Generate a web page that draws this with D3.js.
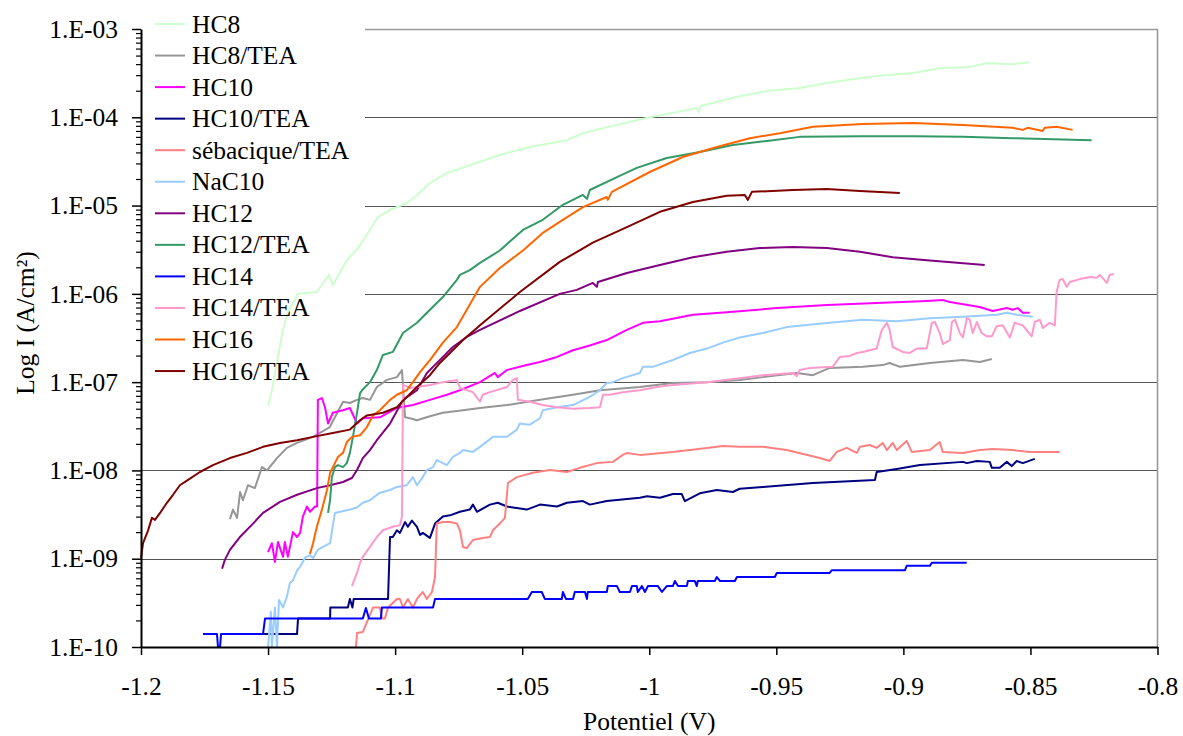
<!DOCTYPE html>
<html><head><meta charset="utf-8">
<script src="https://cdn.jsdelivr.net/npm/d3@7"></script>
<style>body{margin:0;background:#fff;} svg{display:block;} svg text{font-family:"Liberation Serif","Tinos","Times New Roman",Times,"DejaVu Serif","Noto Serif",serif !important;fill:#000;}</style>
</head><body><svg id="chart" width="1183" height="736"></svg>
<script>
const seriesNames = ["HC8","HC8/TEA","HC10","HC10/TEA","sébacique/TEA","NaC10","HC12","HC12/TEA","HC14","HC14/TEA","HC16","HC16/TEA"];
const seriesColors = ["#ccffcc","#969696","#ff00ff","#000080","#ff8080","#99ccff","#800080","#339966","#0000ff","#ff99cc","#ff6600","#800000"];
const xTickValues = [-1.2,-1.15,-1.1,-1.05,-1,-0.95,-0.9,-0.85,-0.8];
const xTickLabels = ["-1.2","-1.15","-1.1","-1.05","-1","-0.95","-0.9","-0.85","-0.8"];
const yTickValues = [1e-10,1e-9,1e-8,1e-7,1e-6,1e-5,1e-4,1e-3];
const yTickLabels = ["1.E-10","1.E-09","1.E-08","1.E-07","1.E-06","1.E-05","1.E-04","1.E-03"];
const xTitle = "Potentiel (V)";
const yTitle = "Log I (A/cm²)";

// [potential V, current A/cm²]
const hc8 = [[-1.15,5.4e-8],[-1.1485,8.1e-8],[-1.1441,4.0e-7],[-1.1422,6.2e-7],[-1.1382,1.0e-6],[-1.1308,1.05e-6],[-1.126,1.64e-6],[-1.1245,1.26e-6],[-1.119,2.4e-6],[-1.1146,3.3e-6],[-1.1099,5.3e-6],[-1.1068,7.4e-6],[-1.102,8.9e-6],[-1.0954,1.07e-5],[-1.0922,1.25e-5],[-1.0863,1.8e-5],[-1.0796,2.34e-5],[-1.0725,2.74e-5],[-1.0588,3.74e-5],[-1.047,4.6e-5],[-1.0324,5.5e-5],[-1.0261,6.6e-5],[-1.0127,8.2e-5],[-0.9998,1.0e-4],[-0.9813,1.27e-4],[-0.9805,1.15e-4],[-0.9797,1.34e-4],[-0.9671,1.66e-4],[-0.9537,1.99e-4],[-0.9408,2.15e-4],[-0.9278,2.51e-4],[-0.9105,2.94e-4],[-0.8963,3.18e-4],[-0.8857,3.6e-4],[-0.8739,3.7e-4],[-0.8672,4.1e-4],[-0.857,4.0e-4],[-0.8503,4.2e-4]];
const hc8tea = [[-1.165,2.8e-9],[-1.1638,3.6e-9],[-1.1622,2.9e-9],[-1.161,5.7e-9],[-1.1599,4.6e-9],[-1.1579,6.8e-9],[-1.1552,6.3e-9],[-1.1524,1.09e-8],[-1.1504,1.0e-8],[-1.1465,1.38e-8],[-1.1426,1.8e-8],[-1.1386,2.05e-8],[-1.1323,2.4e-8],[-1.1257,3.1e-8],[-1.1205,6.0e-8],[-1.1178,5.8e-8],[-1.115,6.3e-8],[-1.1127,6.6e-8],[-1.1099,6.3e-8],[-1.1072,8.8e-8],[-1.1032,1.06e-7],[-1.0993,1.14e-7],[-1.0973,1.37e-7],[-1.0961,4.0e-8],[-1.0942,3.9e-8],[-1.0914,3.7e-8],[-1.0863,4.1e-8],[-1.0812,4.5e-8],[-1.0733,4.8e-8],[-1.0666,5.1e-8],[-1.056,5.5e-8],[-1.043,6.3e-8],[-1.03,7.2e-8],[-1.0194,8.1e-8],[-1.0037,8.8e-8],[-0.9907,9.8e-8],[-0.9773,1.0e-7],[-0.9644,1.06e-7],[-0.9553,1.14e-7],[-0.9419,1.27e-7],[-0.9356,1.2e-7],[-0.929,1.45e-7],[-0.916,1.49e-7],[-0.9081,1.56e-7],[-0.9054,1.65e-7],[-0.9014,1.49e-7],[-0.8896,1.65e-7],[-0.8766,1.78e-7],[-0.8699,1.69e-7],[-0.8652,1.83e-7]];
const hc10 = [[-1.15,1.19e-9],[-1.1485,1.5e-9],[-1.1473,9.2e-10],[-1.1461,1.55e-9],[-1.1441,1.05e-9],[-1.1434,1.55e-9],[-1.1422,1.05e-9],[-1.1402,2.0e-9],[-1.1386,1.76e-9],[-1.1374,1.96e-9],[-1.1363,3.0e-9],[-1.1347,3.9e-9],[-1.1335,3.4e-9],[-1.1315,3.9e-9],[-1.1307,3.9e-9],[-1.1304,6.3e-8],[-1.1288,6.6e-8],[-1.1276,5.2e-8],[-1.1264,3.4e-8],[-1.1245,4.5e-8],[-1.1205,4.8e-8],[-1.1178,5.1e-8],[-1.115,3.4e-8],[-1.1127,3.9e-8],[-1.106,4.0e-8],[-1.0993,5.1e-8],[-1.093,5.5e-8],[-1.0863,6.3e-8],[-1.0796,7.2e-8],[-1.0745,8.1e-8],[-1.0666,1.0e-7],[-1.0607,1.27e-7],[-1.0596,1.14e-7],[-1.056,1.37e-7],[-1.0482,1.56e-7],[-1.043,1.69e-7],[-1.0363,1.93e-7],[-1.03,2.3e-7],[-1.0234,2.6e-7],[-1.0167,3.0e-7],[-1.0088,3.9e-7],[-1.0025,4.7e-7],[-0.9958,4.9e-7],[-0.9828,5.8e-7],[-0.9695,6.2e-7],[-0.9498,6.9e-7],[-0.9301,7.5e-7],[-0.9105,7.9e-7],[-0.8908,8.3e-7],[-0.8845,8.5e-7],[-0.8817,8.1e-7],[-0.87,7.1e-7],[-0.8648,6.4e-7],[-0.8593,6.9e-7],[-0.857,6.6e-7],[-0.855,6.9e-7],[-0.853,6.1e-7],[-0.8503,6.1e-7]];
const hc10tea = [[-1.152,1.4e-10],[-1.1386,1.4e-10],[-1.1382,2.1e-10],[-1.1256,2.1e-10],[-1.1255,2.8e-10],[-1.1186,2.8e-10],[-1.1178,3.5e-10],[-1.1168,2.8e-10],[-1.1163,3.5e-10],[-1.1028,3.5e-10],[-1.102,1.76e-9],[-1.1009,1.76e-9],[-1.0993,2.1e-9],[-1.0981,1.96e-9],[-1.0961,2.6e-9],[-1.095,2.3e-9],[-1.0934,2.7e-9],[-1.0914,2.3e-9],[-1.0902,1.86e-9],[-1.0891,1.96e-9],[-1.0863,1.72e-9],[-1.0843,2.5e-9],[-1.0812,3.0e-9],[-1.0784,3.1e-9],[-1.0745,3.4e-9],[-1.0706,3.6e-9],[-1.0694,4.1e-9],[-1.0678,3.4e-9],[-1.0627,4.1e-9],[-1.0596,4.3e-9],[-1.056,3.9e-9],[-1.0482,3.6e-9],[-1.043,4.1e-9],[-1.0363,3.9e-9],[-1.0324,4.3e-9],[-1.0261,4.5e-9],[-1.0234,4.1e-9],[-1.0167,4.5e-9],[-1.0037,4.9e-9],[-1.0009,5.1e-9],[-0.9958,4.9e-9],[-0.9907,5.4e-9],[-0.9872,5.4e-9],[-0.986,4.5e-9],[-0.9801,5.5e-9],[-0.9734,6.0e-9],[-0.9671,5.7e-9],[-0.9644,6.2e-9],[-0.9553,6.5e-9],[-0.9356,7.2e-9],[-0.9112,7.8e-9],[-0.9105,9.6e-9],[-0.9026,1.04e-8],[-0.8935,1.15e-8],[-0.8766,1.25e-8],[-0.875,1.21e-8],[-0.8711,1.28e-8],[-0.866,1.25e-8],[-0.8652,1.07e-8],[-0.8621,1.07e-8],[-0.8593,1.25e-8],[-0.8574,1.12e-8],[-0.8554,1.28e-8],[-0.853,1.21e-8],[-0.8483,1.35e-8]];
const sebaciqueTea = [[-1.1154,1.0e-10],[-1.115,1.44e-10],[-1.1127,1.48e-10],[-1.1087,2.8e-10],[-1.1072,2.8e-10],[-1.106,2.8e-10],[-1.1052,2.1e-10],[-1.104,2.1e-10],[-1.1028,2.8e-10],[-1.0993,3.5e-10],[-1.0981,3.5e-10],[-1.0969,2.8e-10],[-1.095,3.5e-10],[-1.093,2.8e-10],[-1.0914,3.5e-10],[-1.0891,4.2e-10],[-1.0875,3.5e-10],[-1.0855,4.2e-10],[-1.0843,6.2e-10],[-1.0836,2.5e-9],[-1.0812,2.6e-9],[-1.0784,2.6e-9],[-1.0757,2.5e-9],[-1.0745,2.1e-9],[-1.0733,1.36e-9],[-1.0718,1.32e-9],[-1.0694,1.63e-9],[-1.0655,1.72e-9],[-1.0627,1.76e-9],[-1.0615,2.1e-9],[-1.0588,2.5e-9],[-1.0568,2.9e-9],[-1.0556,7.2e-9],[-1.0521,8.4e-9],[-1.0458,9.4e-9],[-1.0391,1.01e-8],[-1.0324,9.6e-9],[-1.0273,1.07e-8],[-1.0206,1.21e-8],[-1.0143,1.25e-8],[-1.0104,1.5e-8],[-1.0088,1.58e-8],[-1.0037,1.5e-8],[-0.9907,1.62e-8],[-0.9773,1.8e-8],[-0.971,1.89e-8],[-0.9644,1.85e-8],[-0.9553,1.85e-8],[-0.9459,1.7e-8],[-0.9329,1.38e-8],[-0.929,1.28e-8],[-0.9262,1.62e-8],[-0.9223,1.8e-8],[-0.9183,1.58e-8],[-0.9171,1.85e-8],[-0.9132,1.94e-8],[-0.9105,1.8e-8],[-0.9081,2.05e-8],[-0.9065,1.7e-8],[-0.9042,2.05e-8],[-0.9026,1.7e-8],[-0.8987,2.16e-8],[-0.8967,1.62e-8],[-0.8896,1.7e-8],[-0.8857,2.1e-8],[-0.8845,1.62e-8],[-0.8766,1.58e-8],[-0.8699,1.7e-8],[-0.8648,1.75e-8],[-0.857,1.7e-8],[-0.8503,1.62e-8],[-0.8385,1.62e-8]];
const nac10 = [[-1.15,1.0e-10],[-1.1489,2.5e-10],[-1.1485,1.0e-10],[-1.1473,2.8e-10],[-1.1465,1.0e-10],[-1.1457,3.4e-10],[-1.1441,2.8e-10],[-1.1426,3.7e-10],[-1.1414,5.3e-10],[-1.1402,5.7e-10],[-1.1386,7.4e-10],[-1.1374,8.1e-10],[-1.1355,1.02e-9],[-1.1335,1.1e-9],[-1.1323,1.02e-9],[-1.1304,1.26e-9],[-1.1284,1.36e-9],[-1.1256,1.5e-9],[-1.1237,3.3e-9],[-1.1217,3.4e-9],[-1.1178,3.6e-9],[-1.115,3.8e-9],[-1.1127,4.3e-9],[-1.1099,4.6e-9],[-1.106,5.6e-9],[-1.102,6.0e-9],[-1.0993,6.5e-9],[-1.0954,6.8e-9],[-1.093,8.4e-9],[-1.0914,6.8e-9],[-1.0891,8.4e-9],[-1.0875,1.01e-8],[-1.0851,1.09e-8],[-1.0836,1.31e-8],[-1.0796,1.15e-8],[-1.0773,1.42e-8],[-1.0745,1.58e-8],[-1.0733,1.7e-8],[-1.0694,1.62e-8],[-1.0666,1.85e-8],[-1.0615,2.4e-8],[-1.056,2.4e-8],[-1.0521,2.9e-8],[-1.0509,3.4e-8],[-1.047,3.3e-8],[-1.043,3.9e-8],[-1.0419,4.8e-8],[-1.0363,5.2e-8],[-1.03,5.5e-8],[-1.0234,6.8e-8],[-1.0194,8.1e-8],[-1.0167,9.8e-8],[-1.0143,1.0e-7],[-1.0104,1.11e-7],[-1.0037,1.27e-7],[-1.0025,1.49e-7],[-0.9986,1.49e-7],[-0.9907,1.78e-7],[-0.984,2.14e-7],[-0.9773,2.4e-7],[-0.971,2.8e-7],[-0.9644,3.2e-7],[-0.9553,3.6e-7],[-0.9459,4.2e-7],[-0.929,4.7e-7],[-0.916,5.1e-7],[-0.9026,4.9e-7],[-0.8896,5.3e-7],[-0.8766,5.5e-7],[-0.8632,5.8e-7],[-0.8593,6.1e-7],[-0.8554,5.8e-7],[-0.8491,5.5e-7]];
const hc12 = [[-1.1681,7.7e-10],[-1.167,9.7e-10],[-1.165,1.26e-9],[-1.1611,1.76e-9],[-1.1559,2.5e-9],[-1.152,3.3e-9],[-1.1453,4.4e-9],[-1.1386,5.3e-9],[-1.1308,6.3e-9],[-1.1256,6.8e-9],[-1.1205,7.4e-9],[-1.117,8.2e-9],[-1.115,1.01e-8],[-1.1127,1.38e-8],[-1.1099,1.7e-8],[-1.1072,2.2e-8],[-1.102,3.4e-8],[-1.0969,6.3e-8],[-1.0914,8.1e-8],[-1.0875,1.27e-7],[-1.0851,1.49e-7],[-1.0812,1.93e-7],[-1.0773,2.5e-7],[-1.0718,3.25e-7],[-1.0666,3.9e-7],[-1.0509,6.4e-7],[-1.0352,1.0e-6],[-1.0285,1.11e-6],[-1.0222,1.33e-6],[-1.0206,1.2e-6],[-1.0202,1.36e-6],[-1.0088,1.72e-6],[-0.9958,2.12e-6],[-0.9828,2.6e-6],[-0.9695,3.0e-6],[-0.9565,3.3e-6],[-0.9435,3.4e-6],[-0.9301,3.3e-6],[-0.9171,3.0e-6],[-0.9042,2.6e-6],[-0.8908,2.4e-6],[-0.868,2.12e-6]];
const hc12tea = [[-1.1264,3.3e-9],[-1.1256,4.6e-9],[-1.1249,8.4e-9],[-1.1237,1.09e-8],[-1.1225,1.15e-8],[-1.1205,1.09e-8],[-1.119,1.21e-8],[-1.1178,1.58e-8],[-1.1166,2.4e-8],[-1.115,4.5e-8],[-1.1138,7.5e-8],[-1.113,8.1e-8],[-1.1099,1.0e-7],[-1.1072,1.37e-7],[-1.1048,2.03e-7],[-1.1009,2.2e-7],[-1.0969,3.6e-7],[-1.0914,4.7e-7],[-1.0863,6.6e-7],[-1.0812,9.2e-7],[-1.0757,1.44e-6],[-1.0745,1.64e-6],[-1.0706,1.86e-6],[-1.0666,2.24e-6],[-1.0588,3.1e-6],[-1.0497,5.3e-6],[-1.0419,6.9e-6],[-1.034,1.02e-5],[-1.0261,1.32e-5],[-1.0245,1.19e-5],[-1.0234,1.5e-5],[-1.0127,2.1e-5],[-1.0049,2.67e-5],[-0.9931,3.46e-5],[-0.9801,4.05e-5],[-0.9671,4.85e-5],[-0.9537,5.4e-5],[-0.9408,6.0e-5],[-0.916,6.1e-5],[-0.8963,6.1e-5],[-0.8766,6.0e-5],[-0.857,5.8e-5],[-0.8259,5.5e-5]];
const hc14 = [[-1.1756,1.4e-10],[-1.1701,1.4e-10],[-1.1697,1.0e-10],[-1.1689,1.0e-10],[-1.1685,1.4e-10],[-1.152,1.4e-10],[-1.1512,2.1e-10],[-1.1127,2.1e-10],[-1.1115,2.77e-10],[-1.1103,2.1e-10],[-1.1056,2.1e-10],[-1.1052,2.8e-10],[-1.0851,2.8e-10],[-1.0843,3.5e-10],[-1.0478,3.5e-10],[-1.0462,4.2e-10],[-1.0423,4.2e-10],[-1.0411,3.5e-10],[-1.0344,3.5e-10],[-1.034,4.2e-10],[-1.0328,3.5e-10],[-1.03,3.5e-10],[-1.0293,4.2e-10],[-1.0253,4.2e-10],[-1.0245,3.5e-10],[-1.0242,4.2e-10],[-1.0167,4.2e-10],[-1.0163,4.9e-10],[-1.0127,4.9e-10],[-1.0116,4.2e-10],[-1.0076,4.2e-10],[-1.0068,4.9e-10],[-1.0049,4.9e-10],[-1.0045,4.2e-10],[-1.0029,4.9e-10],[-1.0017,4.2e-10],[-1.0005,4.9e-10],[-0.9966,4.9e-10],[-0.995,4.2e-10],[-0.9931,4.9e-10],[-0.9907,4.9e-10],[-0.9899,5.6e-10],[-0.9887,4.9e-10],[-0.9852,4.9e-10],[-0.9848,5.6e-10],[-0.9821,5.6e-10],[-0.9813,4.9e-10],[-0.9809,5.6e-10],[-0.9742,5.6e-10],[-0.9734,6.2e-10],[-0.9722,5.6e-10],[-0.9663,5.6e-10],[-0.9655,6.2e-10],[-0.9506,6.2e-10],[-0.9498,6.9e-10],[-0.929,6.9e-10],[-0.9282,7.4e-10],[-0.8994,7.4e-10],[-0.8987,8.3e-10],[-0.8896,8.3e-10],[-0.8888,9.0e-10],[-0.8751,9.0e-10]];
const hc14tea = [[-1.117,4.9e-10],[-1.115,6.9e-10],[-1.1138,9.0e-10],[-1.1127,1.05e-9],[-1.1099,1.36e-9],[-1.1072,1.76e-9],[-1.1048,2.1e-9],[-1.1009,2.3e-9],[-1.0981,2.4e-9],[-1.0973,3.0e-9],[-1.0969,9.3e-8],[-1.0942,8.6e-8],[-1.0914,8.8e-8],[-1.0863,9.3e-8],[-1.0812,1.0e-7],[-1.0757,1.06e-7],[-1.0745,8.6e-8],[-1.0694,7.7e-8],[-1.0666,6.0e-8],[-1.0655,7.2e-8],[-1.0627,7.7e-8],[-1.056,8.8e-8],[-1.0537,1.06e-7],[-1.0521,1.11e-7],[-1.0517,6.3e-8],[-1.047,6.0e-8],[-1.0419,5.5e-8],[-1.0363,5.2e-8],[-1.03,5.0e-8],[-1.0234,5.1e-8],[-1.0194,5.2e-8],[-1.0182,7.2e-8],[-1.0155,7.2e-8],[-1.0104,7.7e-8],[-1.0037,8.1e-8],[-0.997,8.8e-8],[-0.9907,9.3e-8],[-0.9773,1.0e-7],[-0.9644,1.11e-7],[-0.9553,1.2e-7],[-0.9435,1.27e-7],[-0.9419,1.17e-7],[-0.9408,1.37e-7],[-0.9368,1.45e-7],[-0.9278,1.49e-7],[-0.925,1.93e-7],[-0.9211,1.98e-7],[-0.9183,2.14e-7],[-0.916,2.2e-7],[-0.9105,2.4e-7],[-0.9085,3.9e-7],[-0.9065,4.7e-7],[-0.9054,3.9e-7],[-0.9042,2.5e-7],[-0.9002,2.2e-7],[-0.8975,2.14e-7],[-0.8947,2.4e-7],[-0.8908,2.4e-7],[-0.8888,4.7e-7],[-0.8876,4.8e-7],[-0.8857,3.6e-7],[-0.8845,2.7e-7],[-0.8817,3.0e-7],[-0.8809,4.8e-7],[-0.8797,5.1e-7],[-0.8778,3.6e-7],[-0.8766,3.2e-7],[-0.875,5.3e-7],[-0.8739,5.1e-7],[-0.8727,3.6e-7],[-0.8711,4.8e-7],[-0.8692,3.6e-7],[-0.8672,3.3e-7],[-0.8652,3.3e-7],[-0.8633,4.3e-7],[-0.8609,4.4e-7],[-0.8581,3.2e-7],[-0.8562,4.7e-7],[-0.853,4.4e-7],[-0.8495,3.3e-7],[-0.8483,4.8e-7],[-0.8463,5.1e-7],[-0.8451,4.1e-7],[-0.8424,4.7e-7],[-0.8404,4.4e-7],[-0.8397,1.05e-6],[-0.8385,1.44e-6],[-0.8373,1.47e-6],[-0.8357,1.2e-6],[-0.8345,1.36e-6],[-0.8306,1.47e-6],[-0.8266,1.55e-6],[-0.8239,1.52e-6],[-0.8227,1.64e-6],[-0.8199,1.33e-6],[-0.8188,1.64e-6],[-0.8172,1.68e-6]];
const hc16 = [[-1.1335,1.13e-9],[-1.1323,1.5e-9],[-1.1308,2.3e-9],[-1.1288,3.6e-9],[-1.1268,6.0e-9],[-1.1256,9.4e-9],[-1.1237,1.21e-8],[-1.1225,1.42e-8],[-1.1205,1.58e-8],[-1.119,2.1e-8],[-1.117,2.4e-8],[-1.1138,2.5e-8],[-1.1111,3.1e-8],[-1.1087,4.2e-8],[-1.106,4.8e-8],[-1.102,6.3e-8],[-1.0993,7.2e-8],[-1.0954,8.1e-8],[-1.093,1.0e-7],[-1.0902,1.3e-7],[-1.0863,1.78e-7],[-1.0812,2.8e-7],[-1.0757,4.2e-7],[-1.0718,6.6e-7],[-1.0666,1.2e-6],[-1.0588,1.96e-6],[-1.0497,3.1e-6],[-1.0419,4.9e-6],[-1.034,6.9e-6],[-1.0261,9.6e-6],[-1.0167,1.25e-5],[-1.0163,1.16e-5],[-1.0147,1.43e-5],[-0.9998,2.4e-5],[-0.9868,3.55e-5],[-0.9734,4.6e-5],[-0.9604,5.8e-5],[-0.9486,6.6e-5],[-0.9356,7.8e-5],[-0.916,8.4e-5],[-0.8963,8.6e-5],[-0.8766,8.2e-5],[-0.857,7.6e-5],[-0.853,7.2e-5],[-0.8511,7.6e-5],[-0.8452,7.0e-5],[-0.8444,7.6e-5],[-0.8397,7.8e-5],[-0.8334,7.2e-5]];
const hc16tea = [[-1.2,1.02e-9],[-1.1992,1.5e-9],[-1.1972,2.1e-9],[-1.1957,2.9e-9],[-1.1945,2.75e-9],[-1.1925,3.3e-9],[-1.1898,4.3e-9],[-1.1874,5.3e-9],[-1.1847,6.8e-9],[-1.1815,7.8e-9],[-1.1768,9.6e-9],[-1.1717,1.15e-8],[-1.165,1.38e-8],[-1.1583,1.58e-8],[-1.152,1.85e-8],[-1.1453,2.05e-8],[-1.1386,2.2e-8],[-1.1323,2.4e-8],[-1.1245,2.65e-8],[-1.1178,2.9e-8],[-1.1138,3.7e-8],[-1.1111,4.2e-8],[-1.1048,4.5e-8],[-1.0993,5.2e-8],[-1.0954,6.8e-8],[-1.0914,8.8e-8],[-1.0863,1.2e-7],[-1.0824,1.65e-7],[-1.0784,2.14e-7],[-1.0733,3.0e-7],[-1.0678,4.1e-7],[-1.0666,4.4e-7],[-1.0509,1.05e-6],[-1.0352,2.3e-6],[-1.0222,3.8e-6],[-1.0088,5.7e-6],[-0.9958,8.5e-6],[-0.9828,1.1e-5],[-0.9695,1.29e-5],[-0.9624,1.32e-5],[-0.9612,1.16e-5],[-0.9596,1.43e-5],[-0.9435,1.5e-5],[-0.9301,1.54e-5],[-0.9171,1.46e-5],[-0.9014,1.39e-5]];

const seriesData = [hc8,hc8tea,hc10,hc10tea,sebaciqueTea,nac10,hc12,hc12tea,hc14,hc14tea,hc16,hc16tea];

const FONT = '"Liberation Serif","Tinos","Times New Roman",Times,"DejaVu Serif","Noto Serif",serif';
const svg = d3.select("#chart").attr("font-family", FONT);
const plot = {left:141, right:1157.5, top:29, bottom:647};
const legendRight = 365;
const fontSize = 25.5;

const x = d3.scaleLinear().domain([-1.2,-0.8]).range([plot.left, plot.right]);
const y = d3.scaleLog().domain([1e-10,1e-3]).range([plot.bottom, plot.top]);

// gridlines
svg.append("g").selectAll("line").data(yTickValues.filter(v => v > 1e-10)).join("line")
  .attr("x1", v => v >= 1e-7 ? legendRight : plot.left)
  .attr("x2", plot.right)
  .attr("y1", v => Math.round(y(v)) + 0.5)
  .attr("y2", v => Math.round(y(v)) + 0.5)
  .attr("stroke", v => v === 1e-3 ? "#9a9a9a" : "#555")
  .attr("stroke-width", v => v === 1e-3 ? 1.6 : 1.1);

// right border
svg.append("line").attr("x1", plot.right).attr("x2", plot.right)
  .attr("y1", plot.top).attr("y2", plot.bottom)
  .attr("stroke", "#9a9a9a").attr("stroke-width", 1.6);

// series
const line = d3.line().x(d => x(d[0])).y(d => y(d[1]));
svg.append("g").selectAll("path").data(seriesData).join("path")
  .attr("d", d => line(d))
  .attr("fill", "none")
  .attr("stroke", (d,i) => seriesColors[i])
  .attr("stroke-width", 2)
  .attr("stroke-linejoin", "round");

// minor y ticks
const minorVals = [];
yTickValues.slice(0,-1).forEach(v => { for (let k=2;k<=9;k++) minorVals.push(v*k); });
svg.append("g").attr("transform", `translate(${plot.left},0)`)
  .call(d3.axisLeft(y).tickValues(minorVals).tickFormat("").tickSize(5).tickSizeOuter(0))
  .call(g => g.select(".domain").remove())
  .call(g => g.selectAll("line").attr("stroke","#000").attr("stroke-width",1.2));

// y axis
svg.append("g").attr("transform", `translate(${plot.left},0)`)
  .call(d3.axisLeft(y).tickValues(yTickValues).tickFormat((d,i) => yTickLabels[i]).tickSize(9).tickSizeOuter(0).tickPadding(14))
  .attr("font-family", FONT)
  .call(g => g.select(".domain").attr("stroke","#000").attr("stroke-width",2))
  .call(g => g.selectAll(".tick line").attr("stroke","#000").attr("stroke-width",1.5))
  .call(g => g.selectAll("text").attr("font-family", FONT).attr("font-size", fontSize).attr("fill","#000"));

// x axis
svg.append("g").attr("transform", `translate(0,${plot.bottom})`)
  .call(d3.axisBottom(x).tickValues(xTickValues).tickFormat((d,i) => xTickLabels[i]).tickSize(8).tickSizeOuter(0).tickPadding(22))
  .attr("font-family", FONT)
  .call(g => g.select(".domain").attr("stroke","#000").attr("stroke-width",2))
  .call(g => g.selectAll(".tick line").attr("stroke","#000").attr("stroke-width",1.5))
  .call(g => g.selectAll("text").attr("font-family", FONT).attr("font-size", fontSize).attr("fill","#000"));

// axis titles
svg.append("text").attr("x", (plot.left+plot.right)/2).attr("y", 730)
  .attr("text-anchor","middle").attr("font-family", FONT).attr("font-size", fontSize).text(xTitle);
svg.append("text").attr("transform","translate(34,323) rotate(-90)")
  .attr("text-anchor","middle").attr("font-family", FONT).attr("font-size", fontSize).text(yTitle);

// legend
const legend = svg.append("g");
seriesNames.forEach((name,i) => {
  const cy = 24 + i*31.55;
  legend.append("line").attr("x1",155).attr("x2",185).attr("y1",cy).attr("y2",cy)
    .attr("stroke", seriesColors[i]).attr("stroke-width", 2);
  legend.append("text").attr("x",192).attr("y",cy+8.5).attr("font-family", FONT).attr("font-size",fontSize).text(name);
});
</script>
</body></html>
